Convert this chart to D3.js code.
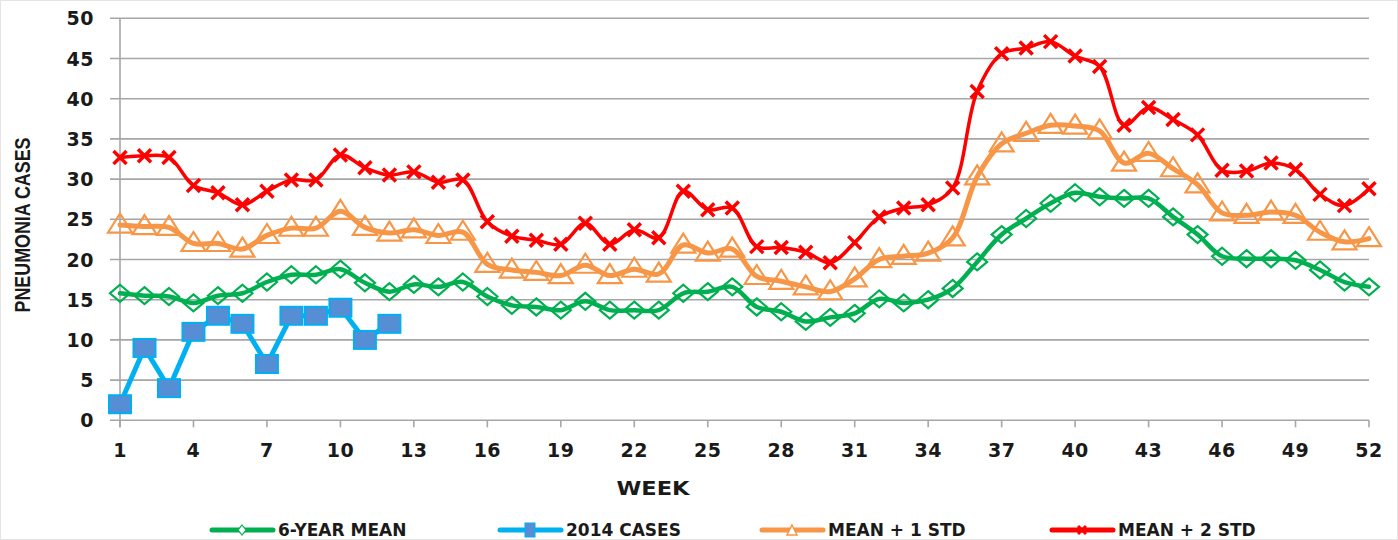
<!DOCTYPE html>
<html><head><meta charset="utf-8">
<script src="https://cdn.jsdelivr.net/npm/d3@7/dist/d3.min.js"></script>
<style>html,body{margin:0;padding:0;background:#fff;}svg{display:block;}</style>
</head><body>
<svg id="chart" width="1398" height="540"></svg>
<script>
const weeks = d3.range(1, 53);
const xTickWeeks = [1,4,7,10,13,16,19,22,25,28,31,34,37,40,43,46,49,52];
const yTicks = [0,5,10,15,20,25,30,35,40,45,50];

const mean6yr = [15.8,15.5,15.4,14.6,15.5,15.8,17.2,18.1,18.1,18.8,17.1,16.0,16.9,16.6,17.2,
  15.4,14.3,14.1,13.7,14.8,13.7,13.7,13.7,15.8,16.0,16.6,14.1,13.5,12.3,12.8,13.3,15.1,14.6,
  15.0,16.4,19.7,23.1,25.1,27.0,28.3,27.8,27.6,27.6,25.3,23.1,20.4,20.1,20.1,19.9,18.7,17.2,16.6];
const cases2014 = [2,9,4,11,13,12,7,13,13,14,10,12];
const meanPlus1 = [24.3,24.1,24.0,22.0,22.0,21.3,23.0,23.9,23.9,26.0,24.0,23.3,23.7,23.0,23.4,
  19.4,18.7,18.4,18.0,19.3,18.0,18.8,18.2,21.8,20.8,21.3,17.9,17.3,16.6,16.0,17.6,20.0,20.4,
  20.8,22.7,30.3,34.4,35.7,36.7,36.6,36.0,32.0,33.2,31.3,29.3,25.8,25.5,25.9,25.5,23.4,22.2,22.6];
const meanPlus2 = [32.7,32.9,32.7,29.2,28.3,26.8,28.5,29.9,29.9,33.0,31.4,30.5,30.9,29.6,29.9,
  24.7,22.9,22.4,21.9,24.5,21.9,23.7,22.7,28.5,26.2,26.4,21.6,21.5,20.9,19.6,22.1,25.3,26.4,
  26.8,28.9,40.9,45.6,46.3,47.1,45.3,44.0,36.7,38.9,37.4,35.5,31.1,31.0,32.0,31.2,28.1,26.7,28.8];
const seriesNames = ["6-YEAR MEAN","2014 CASES","MEAN + 1 STD","MEAN + 2 STD"];

const svg = d3.select("#chart");
const x = d3.scaleLinear().domain([1,52]).range([120,1369]);
const y = d3.scaleLinear().domain([0,50]).range([420.3,18.3]);

// outer faint border
svg.append("rect").attr("x",0.5).attr("y",0.5).attr("width",1397).attr("height",539)
  .attr("fill","none").attr("stroke","#e4e4e4");

// gridlines
svg.append("g").selectAll("line").data(yTicks).join("line")
  .attr("x1",110).attr("x2",1369).attr("y1",d=>y(d)).attr("y2",d=>y(d))
  .attr("stroke","#a6a6a6").attr("stroke-width",1.6);
// y axis line
svg.append("line").attr("x1",120).attr("x2",120).attr("y1",y(50)).attr("y2",y(0)+7)
  .attr("stroke","#a6a6a6").attr("stroke-width",1.6);
// x ticks
svg.append("g").selectAll("line").data(xTickWeeks).join("line")
  .attr("x1",d=>x(d)).attr("x2",d=>x(d)).attr("y1",y(0)).attr("y2",y(0)+7)
  .attr("stroke","#a6a6a6").attr("stroke-width",1.6);

const fontBold = "'DejaVu Sans', Verdana, sans-serif";
// y tick labels
svg.append("g").selectAll("text").data(yTicks).join("text")
  .attr("x",94).attr("y",d=>y(d)+7)
  .attr("text-anchor","end").attr("font-family",fontBold).attr("font-weight","bold")
  .attr("font-size",19).attr("fill","#1a1a1a").attr("letter-spacing",0.5).text(d=>d);
// x tick labels
svg.append("g").selectAll("text").data(xTickWeeks).join("text")
  .attr("x",d=>x(d)).attr("y",457)
  .attr("text-anchor","middle").attr("font-family",fontBold).attr("font-weight","bold")
  .attr("font-size",19).attr("fill","#1a1a1a").attr("letter-spacing",0.5).text(d=>d);
// axis titles
svg.append("text").attr("x",653).attr("y",495).attr("text-anchor","middle")
  .attr("font-family",fontBold).attr("font-weight","bold").attr("font-size",20)
  .attr("fill","#1a1a1a").attr("textLength",73).attr("lengthAdjust","spacingAndGlyphs").text("WEEK");
svg.append("text").attr("transform","translate(30,225) rotate(-90)").attr("text-anchor","middle")
  .attr("font-family","'Liberation Sans Narrow','Liberation Sans',Arial,sans-serif").attr("font-weight","bold")
  .attr("font-size",22).attr("fill","#1a1a1a")
  .attr("textLength",175).attr("lengthAdjust","spacingAndGlyphs").text("PNEUMONIA CASES");

const smooth = d3.curveCatmullRom.alpha(0.5);
function drawLine(data, color, width, curve){
  const line = d3.line().x((d,i)=>x(i+1)).y(d=>y(d)).curve(curve);
  svg.append("path").datum(data).attr("d",line).attr("fill","none")
    .attr("stroke",color).attr("stroke-width",width).attr("stroke-linejoin","round").attr("stroke-linecap","round");
}
function diamond(g, cx, cy, w, h){
  return g.append("path").attr("d",`M${cx},${cy-h/2}L${cx+w/2},${cy}L${cx},${cy+h/2}L${cx-w/2},${cy}Z`);
}
function triangle(g, cx, cy, w, h){
  return g.append("path").attr("d",`M${cx},${cy-h*0.6}L${cx+w/2},${cy+h*0.4}L${cx-w/2},${cy+h*0.4}Z`);
}
function cross(g, cx, cy, s){
  return g.append("path").attr("d",`M${cx-s/2},${cy-s/2}L${cx+s/2},${cy+s/2}M${cx+s/2},${cy-s/2}L${cx-s/2},${cy+s/2}`);
}

const GREEN="#00b050", BLUE="#00b0f0", BLUEFILL="#558ed5", ORANGE="#f79646", RED="#ff0000";

// 6-year mean
drawLine(mean6yr, GREEN, 4.5, smooth);
const gG = svg.append("g");
mean6yr.forEach((v,i)=>diamond(gG, x(i+1), y(v), 20, 17).attr("fill","none").attr("stroke",GREEN).attr("stroke-width",2.2));

// 2014 cases
drawLine(cases2014, BLUE, 5, d3.curveLinear);
svg.append("g").selectAll("rect").data(cases2014).join("rect")
  .attr("x",(d,i)=>x(i+1)-11).attr("y",d=>y(d)-9).attr("width",22).attr("height",18)
  .attr("fill",BLUEFILL).attr("stroke",BLUE).attr("stroke-width",2);

// mean + 1 std
drawLine(meanPlus1, ORANGE, 5, smooth);
const gO = svg.append("g");
meanPlus1.forEach((v,i)=>triangle(gO, x(i+1), y(v), 24, 19).attr("fill","none").attr("stroke",ORANGE).attr("stroke-width",2.2));

// mean + 2 std
drawLine(meanPlus2, RED, 3.5, smooth);
const gR = svg.append("g");
meanPlus2.forEach((v,i)=>cross(gR, x(i+1), y(v), 13).attr("fill","none").attr("stroke",RED).attr("stroke-width",3.5));

// legend
const legY = 530;
const legStarts = [212, 500, 762, 1052];
const legColors = [GREEN, BLUE, ORANGE, RED];
const leg = svg.append("g");
seriesNames.forEach((name,i)=>{
  const x0 = legStarts[i], cx = x0+30;
  leg.append("line").attr("x1",x0).attr("x2",x0+61).attr("y1",legY).attr("y2",legY)
    .attr("stroke",legColors[i]).attr("stroke-width",5).attr("stroke-linecap","round");
  if(i===0) diamond(leg,cx,legY,8,10).attr("fill","#fff").attr("stroke",GREEN).attr("stroke-width",1.2);
  if(i===1) leg.append("rect").attr("x",cx-5).attr("y",legY-7).attr("width",10).attr("height",14)
      .attr("fill",BLUEFILL).attr("stroke",BLUE).attr("stroke-width",1);
  if(i===2) triangle(leg,cx,legY+1,10,10).attr("fill","#fff").attr("stroke",ORANGE).attr("stroke-width",1.5);
  if(i===3) cross(leg,cx,legY,8).attr("stroke",RED).attr("stroke-width",3);
  leg.append("text").attr("x",x0+66).attr("y",legY+6)
    .attr("font-family",fontBold).attr("font-weight","bold").attr("font-size",17)
    .attr("fill","#1a1a1a").text(name);
});
</script>
</body></html>
